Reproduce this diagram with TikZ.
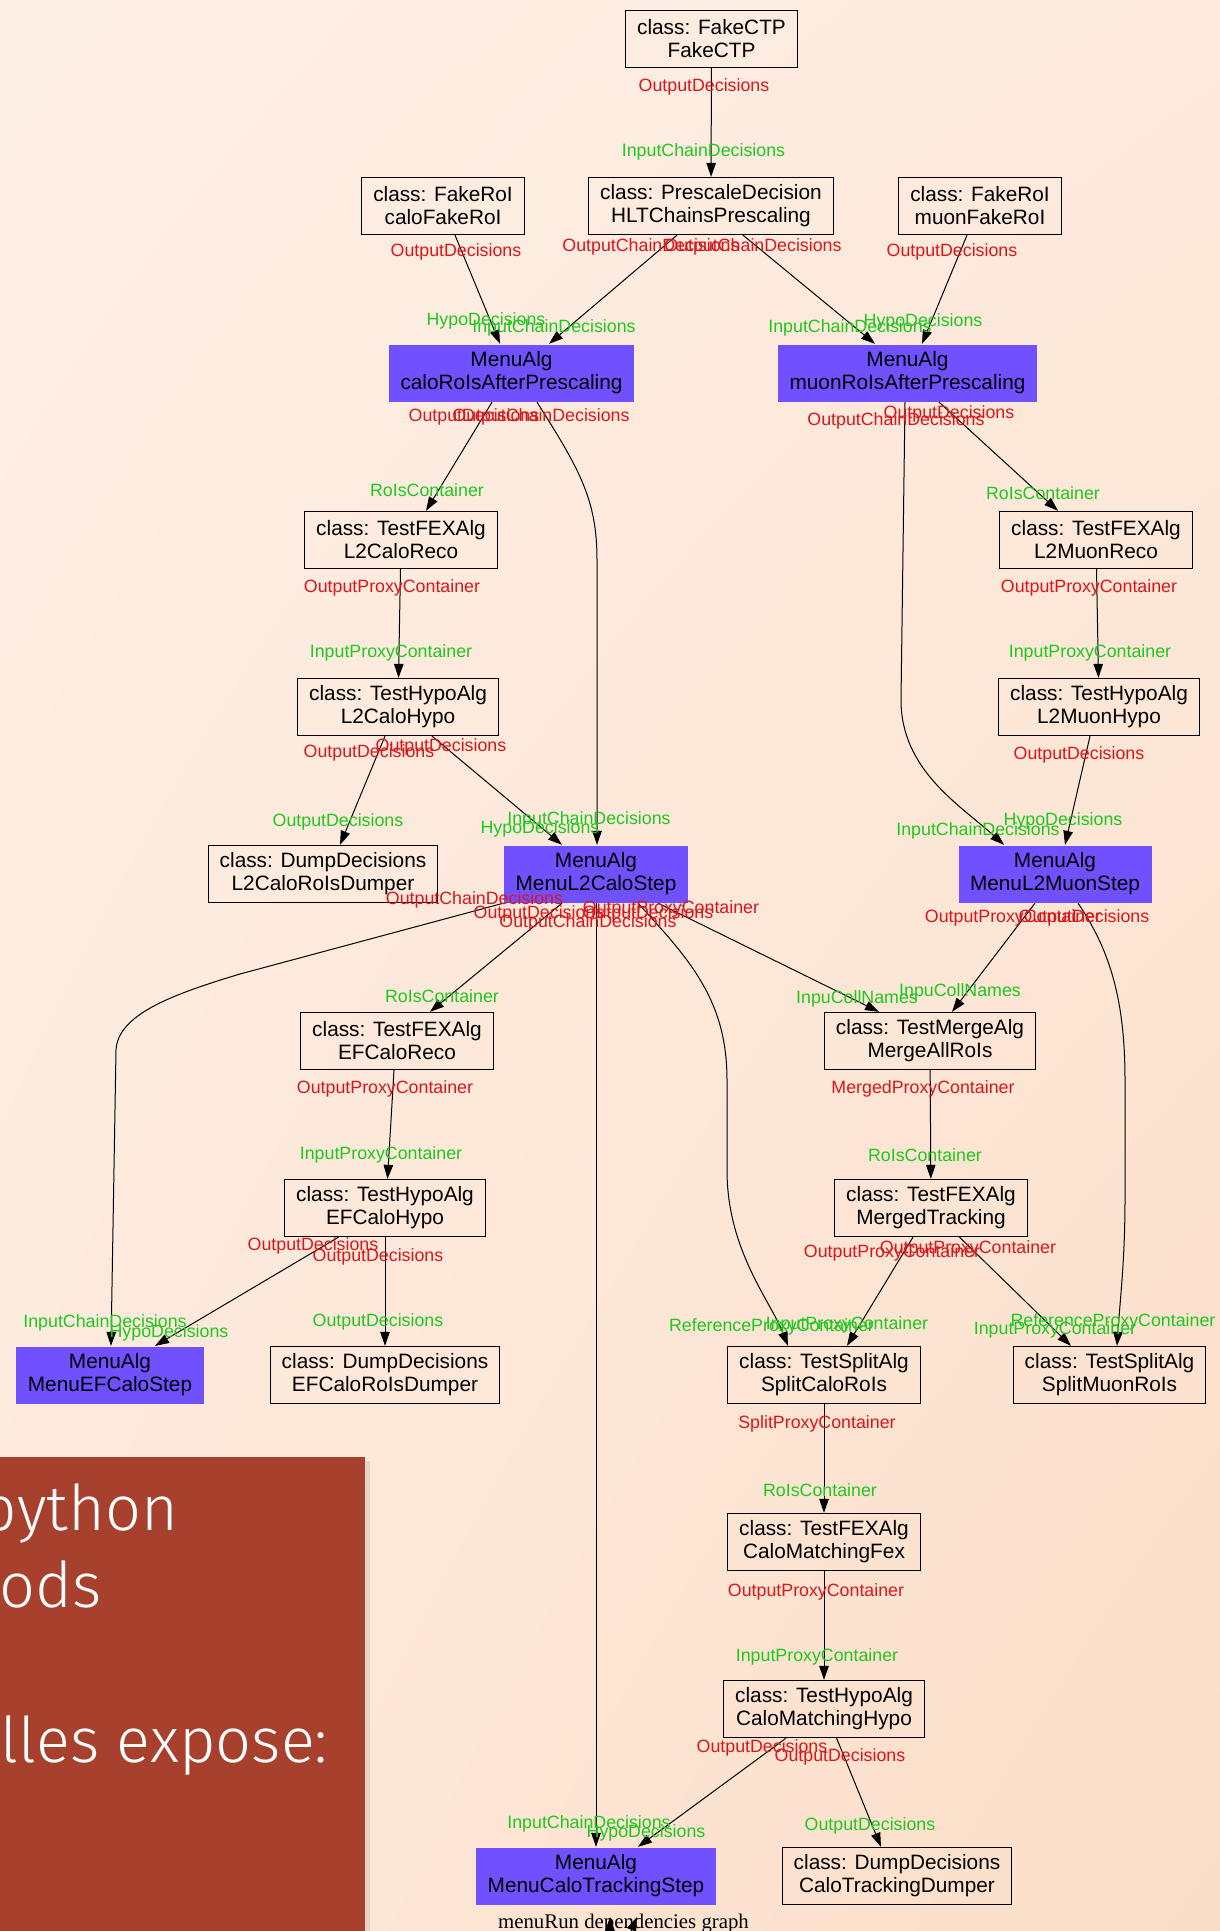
\documentclass[tikz,border=0pt]{standalone}
\usepackage{fontspec}
\setmainfont{Liberation Sans}
\newfontfamily\captionfont{Liberation Serif}
\newfontfamily\panelfont{Fira Sans Light}
\usetikzlibrary{arrows.meta,shadings}

\definecolor{menublue}{RGB}{112,80,255}
\definecolor{tailred}{RGB}{218,22,28}
\definecolor{headgreen}{RGB}{30,200,30}
\definecolor{panelred}{RGB}{168,64,46}
\definecolor{bgUL}{RGB}{254,239,229}
\definecolor{bgUR}{RGB}{253,234,221}
\definecolor{bgLL}{RGB}{253,233,219}
\definecolor{bgLR}{RGB}{251,222,199}

\tikzset{
  algbox/.style={draw, line width=1.3pt, minimum height=57pt, inner xsep=11.5pt,
    align=center, font=\fontsize{20.8}{23}\selectfont},
  menubox/.style={algbox, draw=none, fill=menublue},
  dep/.style={line width=1pt, -{Triangle[length=14pt,width=9.5pt]}},
  tlabel/.style={text=tailred, inner sep=0pt, font=\fontsize{17.8}{20}\selectfont},
  hlabel/.style={tlabel, text=headgreen},
}

\begin{document}
\begin{tikzpicture}[x=1pt, y=-1pt]
   \useasboundingbox (0,0) rectangle (1220,1931);
   \shade[upper left=bgUL, upper right=bgUR, lower left=bgLL, lower right=bgLR]
     (0,0) rectangle (1220,1931);

   % algorithm nodes
   \node[algbox] (fakeCTP) at (711.5,39) {class: FakeCTP\\FakeCTP};
   \node[algbox] (caloFakeRoI) at (443,206) {class: FakeRoI\\caloFakeRoI};
   \node[algbox] (prescaling) at (711,206) {class: PrescaleDecision\\HLTChainsPrescaling};
   \node[algbox] (muonFakeRoI) at (980,206) {class: FakeRoI\\muonFakeRoI};
   \node[menubox] (caloAfter) at (511.5,373) {MenuAlg\\caloRoIsAfterPrescaling};
   \node[menubox] (muonAfter) at (907.5,373) {MenuAlg\\muonRoIsAfterPrescaling};
   \node[algbox] (l2CaloReco) at (401,540) {class: TestFEXAlg\\L2CaloReco};
   \node[algbox] (l2MuonReco) at (1096,540) {class: TestFEXAlg\\L2MuonReco};
   \node[algbox] (l2CaloHypo) at (398,707) {class: TestHypoAlg\\L2CaloHypo};
   \node[algbox] (l2MuonHypo) at (1099,707) {class: TestHypoAlg\\L2MuonHypo};
   \node[algbox] (l2CaloDumper) at (323,874) {class: DumpDecisions\\L2CaloRoIsDumper};
   \node[menubox] (l2CaloStep) at (596,874) {MenuAlg\\MenuL2CaloStep};
   \node[menubox] (l2MuonStep) at (1055,874) {MenuAlg\\MenuL2MuonStep};
   \node[algbox] (efCaloReco) at (397,1041) {class: TestFEXAlg\\EFCaloReco};
   \node[algbox] (mergeAll) at (930,1041) {class: TestMergeAlg\\MergeAllRoIs};
   \node[algbox] (efCaloHypo) at (385,1208) {class: TestHypoAlg\\EFCaloHypo};
   \node[algbox] (mergedTracking) at (931,1208) {class: TestFEXAlg\\MergedTracking};
   \node[menubox] (efCaloStep) at (110,1375) {MenuAlg\\MenuEFCaloStep};
   \node[algbox] (efCaloDumper) at (385,1375) {class: DumpDecisions\\EFCaloRoIsDumper};
   \node[algbox] (splitCalo) at (824,1375) {class: TestSplitAlg\\SplitCaloRoIs};
   \node[algbox] (splitMuon) at (1109.5,1375) {class: TestSplitAlg\\SplitMuonRoIs};
   \node[algbox] (matchingFex) at (824,1542) {class: TestFEXAlg\\CaloMatchingFex};
   \node[algbox] (matchingHypo) at (824,1709) {class: TestHypoAlg\\CaloMatchingHypo};
   \node[menubox] (trackingStep) at (596,1876) {MenuAlg\\MenuCaloTrackingStep};
   \node[algbox] (trackingDumper) at (897,1876) {class: DumpDecisions\\CaloTrackingDumper};

   % dependencies
   \draw[dep] (fakeCTP) to (prescaling);
   \draw[dep] ([xshift=12pt]caloFakeRoI.south) to ([xshift=-11.5pt]caloAfter.north);
   \draw[dep] ([xshift=-34pt]prescaling.south) to ([xshift=37.5pt]caloAfter.north);
   \draw[dep] ([xshift=32pt]prescaling.south) to ([xshift=-32.5pt]muonAfter.north);
   \draw[dep] ([xshift=-13pt]muonFakeRoI.south) to ([xshift=14.5pt]muonAfter.north);
   \draw[dep] ([xshift=-19.5pt]caloAfter.south) to ([xshift=25pt]l2CaloReco.north);
   \draw[dep] ([xshift=25.5pt]caloAfter.south) .. controls (580,470) and (597,500) .. (597,560)
     -- ([xshift=1pt]l2CaloStep.north);
   \draw[dep] ([xshift=31.5pt]muonAfter.south) to ([xshift=-38pt]l2MuonReco.north);
   \draw[dep] ([xshift=-2.5pt]muonAfter.south) -- (901,700) .. controls (901,770) and (960,805)
     .. ([xshift=-51pt]l2MuonStep.north);
   \draw[dep] (l2CaloReco) to (l2CaloHypo);
   \draw[dep] (l2MuonReco) to (l2MuonHypo);
   \draw[dep] ([xshift=-13pt]l2CaloHypo.south) to ([xshift=17pt]l2CaloDumper.north);
   \draw[dep] ([xshift=34pt]l2CaloHypo.south) to ([xshift=-34pt]l2CaloStep.north);
   \draw[dep] ([xshift=-9pt]l2MuonHypo.south) to ([xshift=10pt]l2MuonStep.north);
   \draw[dep] (l2CaloStep.south west) -- (240,974) .. controls (170,995) and (118,1015) .. (116,1050)
     -- ([xshift=1pt]efCaloStep.north);
   \draw[dep] ([xshift=-34pt]l2CaloStep.south) to ([xshift=33pt]efCaloReco.north);
   \draw[dep] (l2CaloStep) to (trackingStep);
   \draw[dep] ([xshift=42pt]l2CaloStep.south) .. controls (690,960) and (727,1000) .. (727,1080)
     -- (727,1170) .. controls (727,1250) and (770,1300) .. ([xshift=-36pt]splitCalo.north);
   \draw[dep] ([xshift=62pt]l2CaloStep.south) to ([xshift=-51pt]mergeAll.north);
   \draw[dep] ([xshift=-20pt]l2MuonStep.south) to ([xshift=22pt]mergeAll.north);
   \draw[dep] ([xshift=23pt]l2MuonStep.south) .. controls (1110,950) and (1125,1000) .. (1125,1080)
     -- (1125,1200) .. controls (1125,1260) and (1120,1300) .. ([xshift=7.5pt]splitMuon.north);
   \draw[dep] (mergeAll) to (mergedTracking);
   \draw[dep] ([xshift=-3pt]efCaloReco.south) to ([xshift=2.5pt]efCaloHypo.north);
   \draw[dep] ([xshift=-46.5pt]efCaloHypo.south) to ([xshift=45pt]efCaloStep.north);
   \draw[dep] (efCaloHypo) to (efCaloDumper);
   \draw[dep] ([xshift=-18pt]mergedTracking.south) to ([xshift=23pt]splitCalo.north);
   \draw[dep] ([xshift=28.5pt]mergedTracking.south) to ([xshift=-38.5pt]splitMuon.north);
   \draw[dep] (splitCalo) to (matchingFex);
   \draw[dep] (matchingFex) to (matchingHypo);
   \draw[dep] ([xshift=-38pt]matchingHypo.south) to ([xshift=42pt]trackingStep.north);
   \draw[dep] ([xshift=12.6pt]matchingHypo.south) to ([xshift=-16pt]trackingDumper.north);

   % output labels
   \node[tlabel] (t1) at (704,87) {OutputDecisions};
   \node[tlabel] (t2) at (456,252) {OutputDecisions};
   \node[tlabel] (t3) at (651,247) {OutputChainDecisions};
   \node[tlabel] (t4) at (753,247) {OutputChainDecisions};
   \node[tlabel] (t5) at (952,252) {OutputDecisions};
   \node[tlabel] (t6) at (474,417) {OutputDecisions};
   \node[tlabel] (t7) at (541,417) {OutputChainDecisions};
   \node[tlabel] (t8) at (949,414) {OutputDecisions};
   \node[tlabel] (t9) at (896,421) {OutputChainDecisions};
   \node[tlabel] (t10) at (392,588) {OutputProxyContainer};
   \node[tlabel] (t11) at (1089,588) {OutputProxyContainer};
   \node[tlabel] (t12) at (369,753) {OutputDecisions};
   \node[tlabel] (t13) at (441,747) {OutputDecisions};
   \node[tlabel] (t14) at (1079,755) {OutputDecisions};
   \node[tlabel] (t15) at (474.5,900) {OutputChainDecisions};
   \node[tlabel] (t16) at (539,914) {OutputDecisions};
   \node[tlabel] (t17) at (588,923) {OutputChainDecisions};
   \node[tlabel] (t18) at (648,914) {OutputDecisions};
   \node[tlabel] (t19) at (671,909) {OutputProxyContainer};
   \node[tlabel] (t20) at (1013,918) {OutputProxyContainer};
   \node[tlabel] (t21) at (1084,918) {OutputDecisions};
   \node[tlabel] (t22) at (923,1089) {MergedProxyContainer};
   \node[tlabel] (t23) at (385,1089) {OutputProxyContainer};
   \node[tlabel] (t24) at (313,1246) {OutputDecisions};
   \node[tlabel] (t25) at (378,1257) {OutputDecisions};
   \node[tlabel] (t26) at (892,1253) {OutputProxyContainer};
   \node[tlabel] (t27) at (968,1249) {OutputProxyContainer};
   \node[tlabel] (t28) at (817,1424) {SplitProxyContainer};
   \node[tlabel] (t29) at (816,1592) {OutputProxyContainer};
   \node[tlabel] (t30) at (762,1748) {OutputDecisions};
   \node[tlabel] (t31) at (840,1757) {OutputDecisions};

   % input labels
   \node[hlabel] (h1) at (703.5,152) {InputChainDecisions};
   \node[hlabel] (h2) at (486,321) {HypoDecisions};
   \node[hlabel] (h3) at (554,328) {InputChainDecisions};
   \node[hlabel] (h4) at (850,328) {InputChainDecisions};
   \node[hlabel] (h5) at (923,322) {HypoDecisions};
   \node[hlabel] (h6) at (427,490) {RoIsContainer};
   \node[hlabel] (h7) at (589,820) {InputChainDecisions};
   \node[hlabel] (h8) at (1043,493) {RoIsContainer};
   \node[hlabel] (h9) at (978,831) {InputChainDecisions};
   \node[hlabel] (h10) at (391,653) {InputProxyContainer};
   \node[hlabel] (h11) at (1090,653) {InputProxyContainer};
   \node[hlabel] (h12) at (338,822) {OutputDecisions};
   \node[hlabel] (h13) at (540,829) {HypoDecisions};
   \node[hlabel] (h14) at (1063,821) {HypoDecisions};
   \node[hlabel] (h15) at (105,1323) {InputChainDecisions};
   \node[hlabel] (h16) at (442,996) {RoIsContainer};
   \node[hlabel] (h17) at (589,1824) {InputChainDecisions};
   \node[hlabel] (h18) at (771.5,1327) {ReferenceProxyContainer};
   \node[hlabel] (h19) at (857,999) {InpuCollNames};
   \node[hlabel] (h20) at (960,992) {InpuCollNames};
   \node[hlabel] (h21) at (1113,1322) {ReferenceProxyContainer};
   \node[hlabel] (h22) at (925,1155) {RoIsContainer};
   \node[hlabel] (h23) at (381,1155) {InputProxyContainer};
   \node[hlabel] (h24) at (169,1333) {HypoDecisions};
   \node[hlabel] (h25) at (378,1322) {OutputDecisions};
   \node[hlabel] (h26) at (847,1325) {InputProxyContainer};
   \node[hlabel] (h27) at (1055,1330) {InputProxyContainer};
   \node[hlabel] (h28) at (820,1490) {RoIsContainer};
   \node[hlabel] (h29) at (817,1657) {InputProxyContainer};
   \node[hlabel] (h30) at (646,1833) {HypoDecisions};
   \node[hlabel] (h31) at (870,1826) {OutputDecisions};

   % graph caption
   \node[anchor=base, inner sep=0pt, font=\captionfont\fontsize{20.8}{23}\selectfont]
     (caption) at (623.5,1928) {menuRun dependencies graph};
   \coordinate (stubA) at (610,1934);
   \coordinate (stubAtip) at (610,1917);
   \coordinate (stubB) at (629,1936);
   \coordinate (stubBtip) at (637,1917);
   \draw[dep] (stubA) -- (stubAtip);
   \draw[dep] (stubB) -- (stubBtip);

   % slide panel
   \fill[black, opacity=0.08] (365,1461) rectangle (370,1931);
   \fill[panelred] (0,1457) rectangle (365,1931);
   \node[anchor=base east, inner sep=0pt, text=white, font=\panelfont\fontsize{63}{63}\selectfont]
     (panelA) at (178,1530) {python};
   \node[anchor=base east, inner sep=0pt, text=white, font=\panelfont\fontsize{63}{63}\selectfont]
     (panelB) at (102,1607) {ods};
   \node[anchor=base east, inner sep=0pt, text=white, font=\panelfont\fontsize{63}{63}\selectfont]
     (panelC) at (328,1762) {lles expose:};
\end{tikzpicture}
\end{document}
